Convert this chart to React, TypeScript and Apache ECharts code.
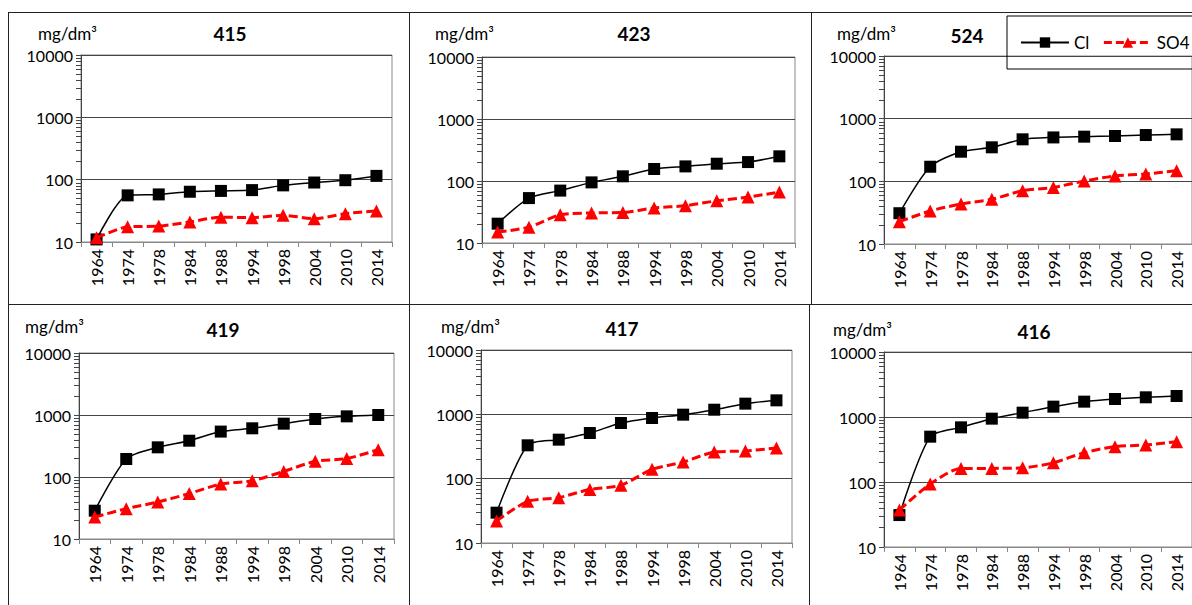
import React, { useEffect, useRef } from "react";
import * as echarts from "echarts";

const years = ["1964", "1974", "1978", "1984", "1988", "1994", "1998", "2004", "2010", "2014"];

const cl415 = [11, 56, 58, 64, 66, 68, 81, 90, 98, 115];
const so4415 = [11.7, 17.5, 18, 21, 25, 24.6, 26.8, 23.7, 28.5, 31.5];
const cl423 = [20.5, 53, 70, 95, 119, 156, 172, 190, 202, 250];
const so4423 = [15, 18, 28.6, 30.5, 31, 36.7, 40, 48, 55, 66.5];
const cl524 = [31, 171, 297, 349, 468, 502, 516, 529, 548, 562];
const so4524 = [22.7, 33.6, 43.5, 51.6, 71, 80, 101, 122, 131, 148];
const cl419 = [28.6, 195, 301, 385, 540, 610, 725, 862, 951, 1000];
const so4419 = [22.6, 30.8, 39.5, 54, 77, 87, 123, 179, 198, 276];
const cl417 = [29.6, 330, 404, 513, 733, 877, 988, 1180, 1466, 1650];
const so4417 = [22, 44.4, 50.7, 68, 78.8, 140, 181, 259, 269, 300];
const cl416 = [31, 498, 693, 943, 1166, 1443, 1723, 1893, 2009, 2105];
const so4416 = [37, 93, 162, 162, 165, 198, 283, 350, 371, 417];

const titles = ["415", "423", "524", "419", "417", "416"];
const unitLabel = "mg/dm³";
const minorTicks = [20, 30, 40, 50, 60, 70, 80, 90, 200, 300, 400, 500, 600, 700, 800, 900, 2000, 3000, 4000, 5000, 6000, 7000, 8000, 9000];

const clSets = [cl415, cl423, cl524, cl419, cl417, cl416];
const so4Sets = [so4415, so4423, so4524, so4419, so4417, so4416];

// layout (pixels)
const grids = [
  { left: 81, top: 55, width: 311, height: 187 },
  { left: 482, top: 57, width: 313, height: 186 },
  { left: 884, top: 56, width: 310, height: 188 },
  { left: 79, top: 353, width: 315, height: 186 },
  { left: 481, top: 350, width: 311, height: 193 },
  { left: 884, top: 352, width: 311, height: 195 },
];
const titlePos = [
  [230, 33], [634, 33], [967, 35], [223, 329], [622, 328], [1034, 331],
];
const unitPos = [
  [38, 33], [435, 33], [837, 33], [25, 326], [441, 326], [833, 329],
];

const FONT = "Lato, 'Open Sans', sans-serif";

export default function App() {
  const ref = useRef<HTMLDivElement>(null);
  useEffect(() => {
    document.body.style.margin = "0";
    if (!ref.current) return;
    const chart = echarts.init(ref.current, null, { renderer: "svg" });

    const series: any[] = [];
    grids.forEach((_, i) => {
      series.push({
        type: "custom",
        xAxisIndex: i,
        yAxisIndex: i,
        silent: true,
        clip: false,
        z: 5,
        data: minorTicks.map((v) => [0, v]),
        renderItem: (params: any, api: any) => {
          const pt = api.coord([0, api.value(1)]);
          const x0 = params.coordSys.x;
          const y = Math.round(pt[1]) + 0.5;
          return {
            type: "line",
            shape: { x1: x0 - 5, y1: y, x2: x0, y2: y },
            style: { stroke: "#444", lineWidth: 1 },
          };
        },
      });
      series.push({
        name: "Cl",
        type: "line",
        xAxisIndex: i,
        yAxisIndex: i,
        data: clSets[i],
        smooth: 0.25,
        symbol: "rect",
        symbolSize: 12,
        itemStyle: { color: "#000" },
        lineStyle: { color: "#000", width: 1.5 },
        z: 3,
      });
      series.push({
        name: "SO4",
        type: "line",
        xAxisIndex: i,
        yAxisIndex: i,
        data: so4Sets[i],
        smooth: 0.25,
        symbol: "triangle",
        symbolSize: 13,
        itemStyle: { color: "#ff0000" },
        lineStyle: { color: "#ff0000", width: 3, type: [9, 4] },
        z: 4,
      });
    });

    const graphics: any[] = [];
    const borderLines = [
      [8, 12.5, 1192, 12.5],
      [8.5, 12, 8.5, 605],
      [409.5, 12, 409.5, 605],
      [811.5, 12, 811.5, 304],
      [809.5, 304, 809.5, 605],
      [8, 304.5, 1192, 304.5],
    ];
    borderLines.forEach(([x1, y1, x2, y2]) => {
      graphics.push({
        type: "line",
        shape: { x1, y1, x2, y2 },
        style: { stroke: "#222", lineWidth: 1 },
        z: 0,
      });
    });
    titles.forEach((t, i) => {
      graphics.push({
        type: "text",
        x: titlePos[i][0],
        y: titlePos[i][1],
        style: {
          text: t,
          fontSize: 19,
          fontWeight: "bold",
          fontFamily: FONT,
          fill: "#000",
          align: "center",
          verticalAlign: "middle",
        },
      });
      graphics.push({
        type: "text",
        x: unitPos[i][0],
        y: unitPos[i][1],
        style: {
          text: unitLabel,
          fontSize: 17,
          fontFamily: FONT,
          fill: "#000",
          align: "left",
          verticalAlign: "middle",
        },
      });
    });

    const option: any = {
      animation: false,
      backgroundColor: "#fff",
      textStyle: { fontFamily: FONT },
      legend: {
        data: [
          { name: "Cl", lineStyle: { width: 2 } },
          { name: "SO4", lineStyle: { width: 3, type: [8, 4] } },
        ],
        left: 1007,
        top: 16,
        width: 300,
        orient: "horizontal",
        padding: [18, 40, 18, 13],
        borderColor: "#000",
        borderWidth: 1,
        itemWidth: 48,
        itemHeight: 13,
        itemGap: 13,
        textStyle: { fontSize: 17, color: "#000", fontFamily: FONT },
        selectedMode: false,
      },
      grid: grids.map((g) => ({
        left: g.left,
        top: g.top,
        width: g.width,
        height: g.height,
        show: true,
        borderColor: "#888",
        borderWidth: 1,
        backgroundColor: "transparent",
      })),
      xAxis: grids.map((_, i) => ({
        type: "category",
        gridIndex: i,
        data: years,
        boundaryGap: true,
        axisLine: { show: true, lineStyle: { color: "#888" } },
        axisTick: { show: true, length: 5, lineStyle: { color: "#888" } },
        axisLabel: { interval: 0, rotate: 90, fontSize: 16, color: "#000", margin: 7, fontFamily: FONT },
        splitLine: { show: false },
      })),
      yAxis: grids.map((_, i) => ({
        type: "log",
        logBase: 10,
        gridIndex: i,
        min: 10,
        max: 10000,
        axisLine: { show: true, lineStyle: { color: "#444" } },
        axisTick: { show: true, length: 5, lineStyle: { color: "#444" } },
        axisLabel: {
          fontSize: 16,
          color: "#000",
          margin: 8,
          fontFamily: FONT,
          formatter: (v: number) => String(Math.round(v)),
        },
        splitLine: { show: true, lineStyle: { color: "#444", width: 1 } },
      })),
      series,
      graphic: graphics,
    };
    chart.setOption(option);
    return () => chart.dispose();
  }, []);
  return <div ref={ref} style={{ width: 1192, height: 605 }} />;
}
